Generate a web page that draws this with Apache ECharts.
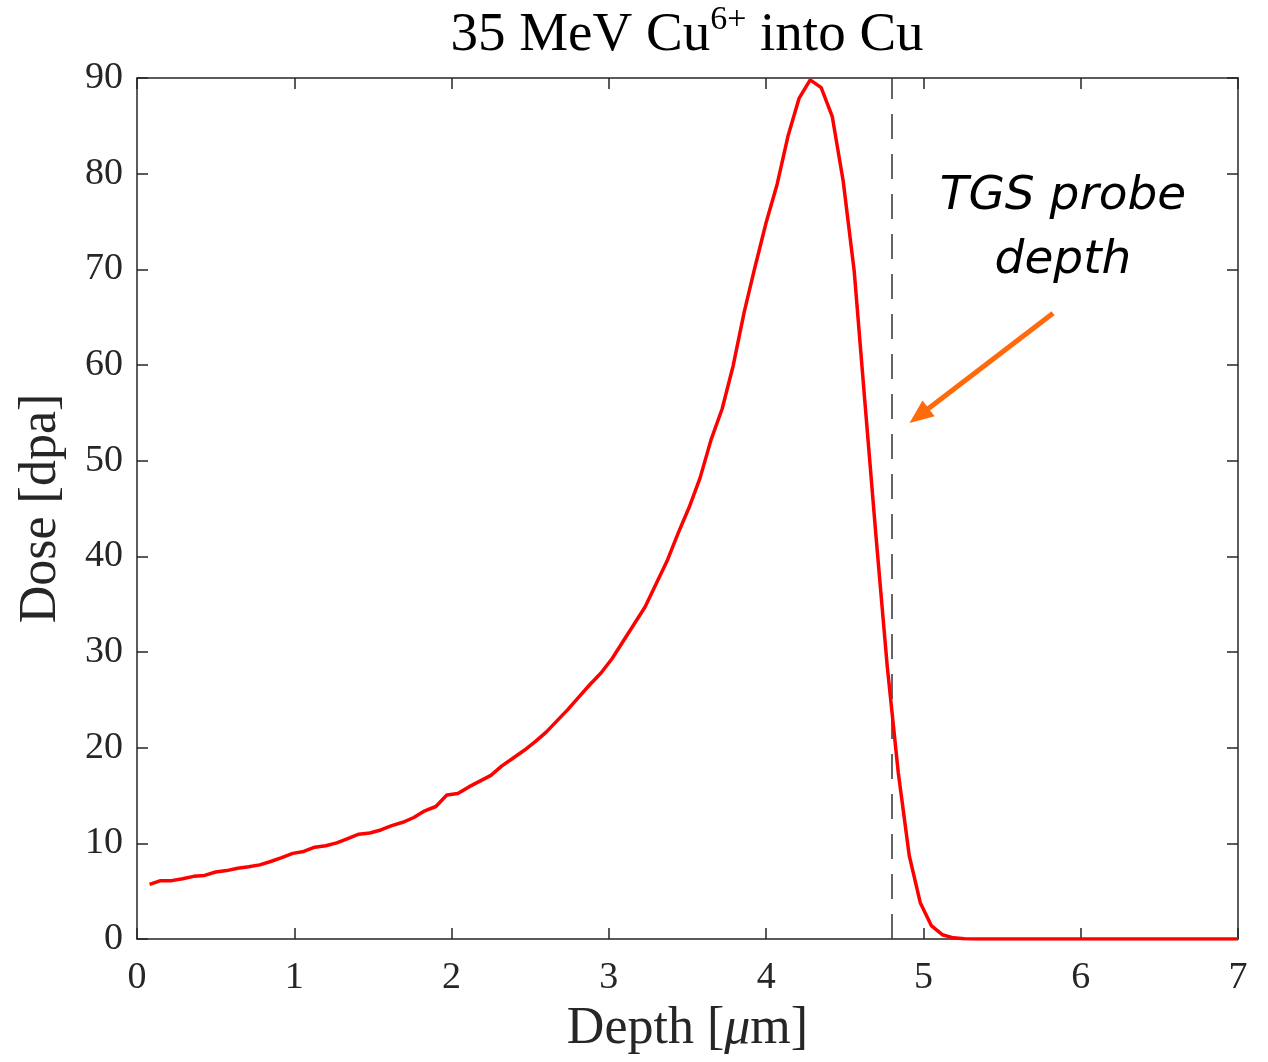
<!DOCTYPE html>
<html><head><meta charset="utf-8">
<script src="https://cdn.jsdelivr.net/npm/echarts@6/dist/echarts.min.js"></script>
<style>html,body{margin:0;padding:0;background:#fff}#c{width:1268px;height:1062px}</style>
</head><body><div id="c"></div>
<script>
const depth = [0.08,0.15,0.22,0.29,0.36,0.43,0.50,0.57,0.64,0.71,0.78,0.85,0.92,0.99,1.06,1.13,1.20,1.27,1.34,1.41,1.48,1.55,1.62,1.69,1.76,1.83,1.90,1.97,2.04,2.11,2.18,2.25,2.32,2.39,2.46,2.53,2.60,2.67,2.74,2.81,2.88,2.95,3.02,3.09,3.16,3.23,3.30,3.37,3.44,3.51,3.58,3.65,3.72,3.79,3.86,3.93,4.00,4.07,4.14,4.21,4.28,4.35,4.42,4.49,4.56,4.63,4.70,4.77,4.84,4.91,4.98,5.05,5.12,5.19,5.26,5.33,5.50,6.00,6.50,7.00];
const dose = [5.7,6.1,6.1,6.3,6.55,6.65,7.0,7.15,7.4,7.55,7.75,8.1,8.5,8.95,9.15,9.6,9.75,10.05,10.5,10.95,11.08,11.4,11.85,12.2,12.7,13.4,13.85,15.05,15.2,15.9,16.5,17.1,18.1,18.9,19.7,20.6,21.6,22.8,24.0,25.3,26.6,27.8,29.3,31.1,32.9,34.7,37.1,39.5,42.4,45.1,48.2,52.2,55.4,59.9,65.5,70.3,74.9,78.9,84.0,87.9,89.8,89.0,86.0,79.2,69.8,55.7,41.8,28.5,17.4,8.7,3.8,1.4,0.45,0.12,0.03,0,0,0,0,0];
const xTicks = [0,1,2,3,4,5,6,7];
const yTicks = [0,10,20,30,40,50,60,70,80,90];
const probeDepth = 4.8;
const arrowStart = [5.824, 65.4];
const arrowEnd = [4.972, 54.7];

const chart = echarts.init(document.getElementById('c'));
const serif = '"Liberation Serif", "Times New Roman", serif';
const axisColor = '#262626';
const baseAxis = {
  axisLine: {show: true, onZero: false, lineStyle: {color: axisColor, width: 1.5}},
  axisTick: {show: true, inside: true, length: 11, lineStyle: {color: axisColor, width: 1.5}},
  splitLine: {show: false}
};
const data = depth.map((d, i) => [d, dose[i]]);
chart.setOption({
  backgroundColor: '#fff',
  animation: false,
  grid: {left: 137, right: 30, top: 78, bottom: 123},
  xAxis: [
    Object.assign({}, baseAxis, {
      type: 'value', min: 0, max: 7, interval: 1, position: 'bottom',
      axisLabel: {fontFamily: serif, fontSize: 38, color: '#262626', margin: 20,
        formatter: v => xTicks.includes(v) ? String(v) : ''},
      name: '{a|Depth [}{m|μ}{a|m]}', nameLocation: 'middle', nameGap: 64,
      nameTextStyle: {rich: {
        a: {fontFamily: serif, fontSize: 52, color: '#262626'},
        m: {fontFamily: serif, fontSize: 52, color: '#262626', fontStyle: 'italic'}
      }}
    }),
    Object.assign({}, baseAxis, {
      type: 'value', min: 0, max: 7, interval: 1, position: 'top',
      axisLabel: {show: false}
    })
  ],
  yAxis: [
    Object.assign({}, baseAxis, {
      type: 'value', min: 0, max: 90, interval: 10, position: 'left',
      axisLabel: {fontFamily: serif, fontSize: 38, color: '#262626', margin: 14,
        formatter: v => yTicks.includes(v) ? String(v) : ''},
      name: 'Dose [dpa]', nameLocation: 'middle', nameGap: 70, nameRotate: 90,
      nameTextStyle: {fontFamily: serif, fontSize: 52, color: '#262626'}
    }),
    Object.assign({}, baseAxis, {
      type: 'value', min: 0, max: 90, interval: 10, position: 'right',
      axisLabel: {show: false}
    })
  ],
  series: [
    {
      type: 'line', data: data, showSymbol: false, symbol: 'none',
      lineStyle: {color: '#ff0000', width: 3.5}, z: 5,
      markLine: {
        silent: true, symbol: ['none', 'none'], label: {show: false},
        lineStyle: {color: '#333', width: 1.5, type: [25, 15]},
        data: [{xAxis: probeDepth}]
      }
    },
    {
      type: 'line', data: [], silent: true,
      markLine: {
        silent: true, symbol: ['none', 'triangle'], symbolSize: [20, 24], label: {show: false},
        itemStyle: {color: '#ff6a0a'},
        lineStyle: {color: '#ff6a0a', width: 5, type: 'solid'},
        data: [[{coord: arrowStart}, {coord: arrowEnd}]]
      }
    }
  ],
  graphic: [
    {type: 'text', x: 687, y: 33, style: {
      text: '{n|35 MeV Cu}{s|6+}{n| into Cu}', align: 'center', verticalAlign: 'middle',
      rich: {
        n: {fontFamily: serif, fontSize: 55, fill: '#000', verticalAlign: 'bottom', lineHeight: 60},
        s: {fontFamily: serif, fontSize: 34, fill: '#000', verticalAlign: 'top', lineHeight: 60, padding: [0,0,24,0]}
      }}},
    {type: 'text', x: 1063, y: 197, style: {text: 'TGS probe', fontFamily: '"DejaVu Sans"', fontStyle: 'italic', fontSize: 47, fill: '#000', align: 'center', verticalAlign: 'middle'}},
    {type: 'text', x: 1063, y: 261, style: {text: 'depth', fontFamily: '"DejaVu Sans"', fontStyle: 'italic', fontSize: 47, fill: '#000', align: 'center', verticalAlign: 'middle'}}
  ]
});
</script></body></html>
